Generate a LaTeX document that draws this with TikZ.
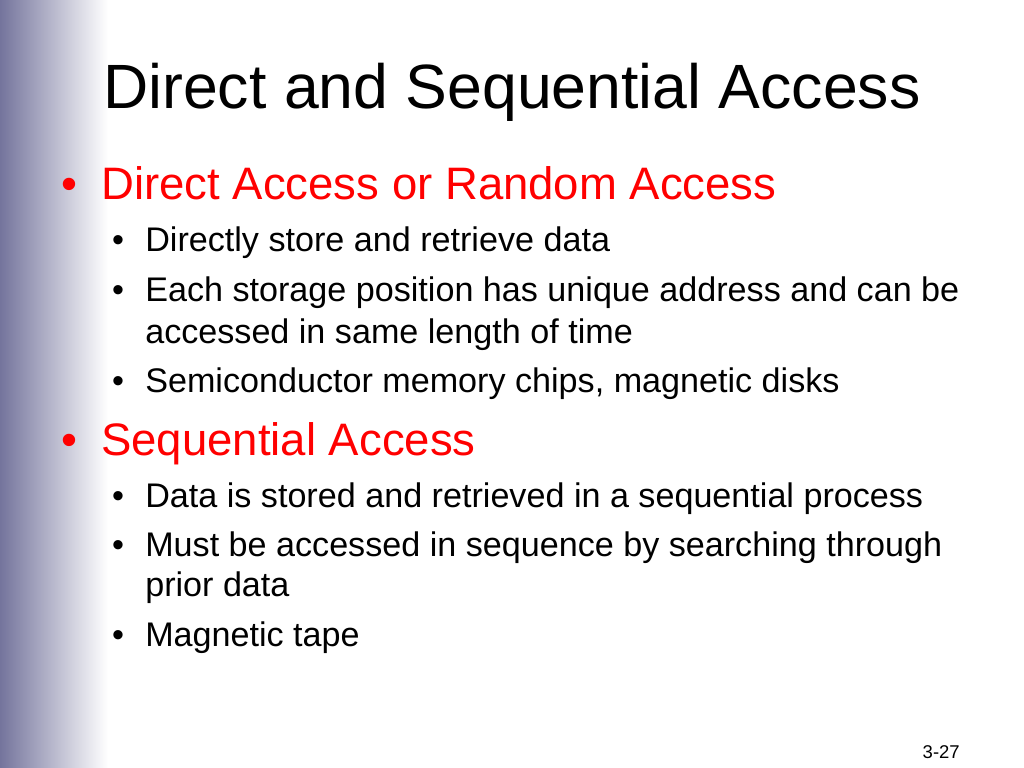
\documentclass[tikz,border=0pt]{standalone}
\usepackage{fontspec}
\setmainfont{Liberation Sans}
\begin{document}
\begin{tikzpicture}[x=0.703125pt,y=-0.703125pt,
  txt/.style={anchor=base west,inner sep=0pt},
  bul/.style={anchor=base,inner sep=0pt},
  title/.style={txt,font=\fontsize{44}{48}\selectfont},
  lone/.style={txt,text=red,font=\fontsize{32}{36}\selectfont},
  ltwo/.style={txt,font=\fontsize{24}{28}\selectfont},
  bone/.style={bul,text=red,font=\fontsize{32}{36}\selectfont},
  btwo/.style={bul,font=\fontsize{24}{28}\selectfont}]
\definecolor{barcol}{RGB}{116,116,156}
\useasboundingbox (0,0) rectangle (1024,768);
\fill[white] (0,0) rectangle (1024,768);
\shade[left color=barcol,right color=white] (0,0) rectangle (108,768);
\node[title] (t) at (103,109) {Direct and Sequential Access};
\node[bone] (b1) at (69,200) {•};
\node[lone] (l1) at (101,200) {Direct Access or Random Access};
\node[btwo] (b11) at (118,252) {•};
\node[ltwo] (l11) at (145,252) {Directly store and retrieve data};
\node[btwo] (b12) at (118,302) {•};
\node[ltwo] (l12) at (145,302) {Each storage position has unique address and can be};
\node[ltwo] (l12b) at (145,343) {accessed in same length of time};
\node[btwo] (b13) at (118,392) {•};
\node[ltwo] (l13) at (145,392) {Semiconductor memory chips, magnetic disks};
\node[bone] (b2) at (69,455) {•};
\node[lone] (l2) at (101,455) {Sequential Access};
\node[btwo] (b21) at (118,507) {•};
\node[ltwo] (l21) at (145,507) {Data is stored and retrieved in a sequential process};
\node[btwo] (b22) at (118,556) {•};
\node[ltwo] (l22) at (145,556) {Must be accessed in sequence by searching through};
\node[ltwo] (l22b) at (145,596) {prior data};
\node[btwo] (b23) at (118,646) {•};
\node[ltwo] (l23) at (145,646) {Magnetic tape};
\node[anchor=base east,inner sep=0pt,font=\fontsize{13}{15}\selectfont] (pg) at (960,758) {3-27};
\end{tikzpicture}
\end{document}
